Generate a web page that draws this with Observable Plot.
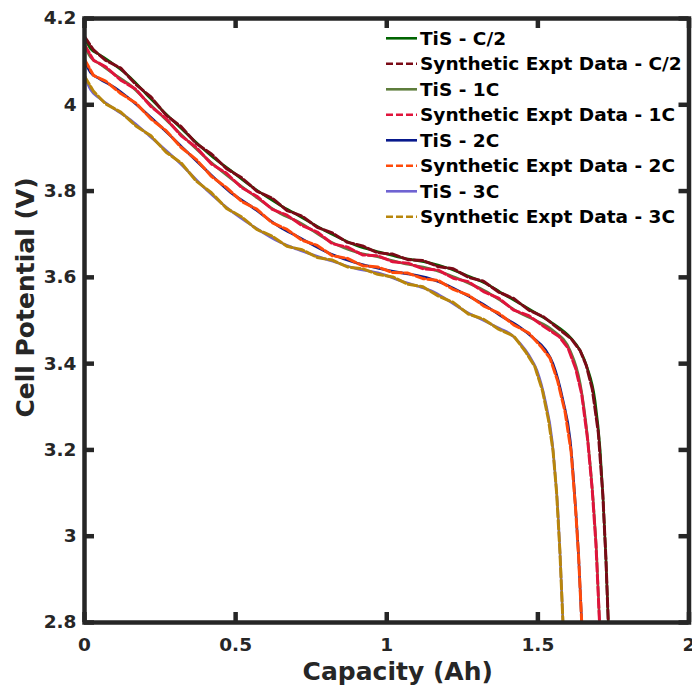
<!DOCTYPE html>
<html>
<head>
<meta charset="utf-8">
<script src="https://cdn.jsdelivr.net/npm/d3@7"></script>
<script src="https://cdn.jsdelivr.net/npm/@observablehq/plot@0.6"></script>
<style>
  html, body { margin: 0; padding: 0; background: #fff; overflow: hidden; }
  #wrap { position: relative; width: 692px; height: 688px; }
  #legend { position: absolute; left: 380px; top: 24px; }
</style>
</head>
<body>
<div id="wrap"></div>
<script>
// ---- data ----
const xTicks = [0, 0.5, 1, 1.5, 2];
const yTicks = [2.8, 3, 3.2, 3.4, 3.6, 3.8, 4, 4.2];

const seriesNames = [
  "TiS - C/2", "Synthetic Expt Data - C/2",
  "TiS - 1C", "Synthetic Expt Data - 1C",
  "TiS - 2C", "Synthetic Expt Data - 2C",
  "TiS - 3C", "Synthetic Expt Data - 3C"
];

// TiS model, C/2
const tisCapC2 = [0,0.02,0.05,0.1,0.152,0.208,0.317,0.426,0.483,0.55,0.648,0.704,0.813,0.9,0.979,1.045,1.144,1.2,1.266,1.33,1.375,1.441,1.484,1.55,1.607,1.64,1.663,1.689,1.706,1.716,1.725,1.733];
const tisVC2   = [4.156,4.13,4.116,4.092,4.063,4.022,3.947,3.878,3.848,3.812,3.767,3.745,3.702,3.674,3.658,3.646,3.633,3.622,3.604,3.585,3.566,3.539,3.521,3.493,3.461,3.43,3.391,3.315,3.2,3.083,2.95,2.8];
// Synthetic, C/2
const synCapC2 = [0,0.03,0.07,0.12,0.17,0.22,0.27,0.32,0.37,0.42,0.47,0.52,0.57,0.62,0.67,0.72,0.77,0.82,0.87,0.92,0.97,1.02,1.07,1.12,1.17,1.22,1.27,1.32,1.37,1.42,1.47,1.52,1.57,1.61,1.64,1.66,1.68,1.70,1.715,1.725,1.733];
const synVC2   = [4.158,4.127,4.103,4.085,4.047,4.018,3.976,3.949,3.910,3.886,3.852,3.831,3.800,3.784,3.755,3.742,3.716,3.703,3.681,3.673,3.657,3.654,3.641,3.639,3.625,3.620,3.600,3.591,3.566,3.551,3.524,3.508,3.480,3.458,3.43,3.396,3.341,3.24,3.095,2.95,2.8];

// TiS model, 1C
const tisCap1C = [0,0.02,0.05,0.1,0.152,0.208,0.317,0.4,0.483,0.55,0.648,0.704,0.813,0.9,0.979,1.045,1.144,1.2,1.266,1.33,1.375,1.441,1.484,1.55,1.607,1.64,1.663,1.683,1.695,1.704];
const tisV1C   = [4.137,4.11,4.095,4.07,4.045,4.007,3.933,3.878,3.83,3.795,3.748,3.73,3.683,3.658,3.646,3.634,3.62,3.607,3.588,3.567,3.547,3.517,3.503,3.477,3.43,3.354,3.238,3.083,2.95,2.8];
// Synthetic, 1C
const synCap1C = [0,0.03,0.07,0.12,0.17,0.22,0.27,0.32,0.37,0.42,0.47,0.52,0.57,0.62,0.67,0.72,0.77,0.82,0.87,0.92,0.97,1.02,1.07,1.12,1.17,1.22,1.27,1.32,1.37,1.42,1.47,1.52,1.57,1.60,1.625,1.645,1.665,1.68,1.692,1.704];
const synV1C   = [4.139,4.103,4.088,4.057,4.036,3.996,3.968,3.928,3.901,3.863,3.841,3.808,3.788,3.758,3.744,3.720,3.705,3.678,3.670,3.652,3.650,3.636,3.633,3.620,3.617,3.598,3.590,3.567,3.552,3.524,3.511,3.486,3.463,3.436,3.389,3.329,3.222,3.106,2.983,2.8];

// TiS model, 2C
const tisCap2C = [0,0.02,0.05,0.1,0.152,0.208,0.317,0.4,0.483,0.55,0.648,0.704,0.813,0.9,0.979,1.045,1.144,1.2,1.266,1.33,1.375,1.441,1.484,1.525,1.55,1.583,1.607,1.623,1.635,1.645];
const tisV2C   = [4.103,4.075,4.06,4.04,4.012,3.978,3.906,3.85,3.797,3.765,3.716,3.695,3.655,3.633,3.62,3.611,3.597,3.582,3.558,3.533,3.512,3.484,3.46,3.432,3.4,3.315,3.222,3.083,2.95,2.8];
// Synthetic, 2C
const synCap2C = [0,0.03,0.07,0.12,0.17,0.22,0.27,0.32,0.37,0.42,0.47,0.52,0.57,0.62,0.67,0.72,0.77,0.82,0.87,0.92,0.97,1.02,1.07,1.12,1.17,1.22,1.27,1.32,1.37,1.42,1.47,1.51,1.54,1.565,1.59,1.61,1.625,1.635,1.645];
const synV2C   = [4.105,4.068,4.055,4.026,4.004,3.967,3.940,3.901,3.873,3.834,3.808,3.776,3.758,3.727,3.711,3.686,3.674,3.650,3.644,3.627,3.624,3.611,3.610,3.597,3.593,3.572,3.559,3.534,3.517,3.490,3.471,3.440,3.413,3.361,3.288,3.196,3.061,2.95,2.8];

// TiS model, 3C
const tisCap3C = [0,0.02,0.05,0.1,0.152,0.208,0.317,0.4,0.483,0.55,0.648,0.704,0.813,0.9,0.979,1.045,1.1,1.154,1.2,1.266,1.33,1.375,1.41,1.441,1.47,1.497,1.524,1.547,1.557,1.564,1.574,1.583];
const tisV3C   = [4.068,4.035,4.015,3.99,3.965,3.932,3.864,3.805,3.755,3.722,3.681,3.665,3.639,3.62,3.609,3.592,3.58,3.567,3.548,3.519,3.497,3.481,3.468,3.447,3.42,3.384,3.315,3.222,3.145,3.083,2.95,2.8];
// Synthetic, 3C
const synCap3C = [0,0.03,0.07,0.12,0.17,0.22,0.27,0.32,0.37,0.42,0.47,0.52,0.57,0.62,0.67,0.72,0.77,0.82,0.87,0.92,0.97,1.02,1.07,1.12,1.17,1.22,1.27,1.32,1.37,1.42,1.46,1.49,1.515,1.535,1.55,1.562,1.573,1.583];
const synV3C   = [4.066,4.031,4.002,3.983,3.951,3.928,3.890,3.865,3.823,3.796,3.760,3.740,3.711,3.696,3.672,3.664,3.646,3.640,3.624,3.620,3.607,3.601,3.584,3.578,3.557,3.542,3.515,3.503,3.480,3.464,3.427,3.393,3.338,3.27,3.199,3.101,2.963,2.8];

// ---- styles ----
const colors = ["#006400", "#7a0a16", "#5e7d3c", "#e0143c", "#08198c", "#ff4a0a", "#6f63d2", "#b8860b"];
const dashed = [false, true, false, true, false, true, false, true];

const caps = [tisCapC2, synCapC2, tisCap1C, synCap1C, tisCap2C, synCap2C, tisCap3C, synCap3C];
const volts = [tisVC2, synVC2, tisV1C, synV1C, tisV2C, synV2C, tisV3C, synV3C];

const series = seriesNames.map((name, i) => ({
  name,
  color: colors[i],
  dashed: dashed[i],
  rows: caps[i].map((c, j) => ({cap: c, v: volts[i][j]}))
}));

const FONT = "DejaVu Sans";
const INK = "#262626";
const W = 692, H = 688;
const mL = 84, mR = 3.5, mT = 18, mB = 66;
const TICK = 10;
const frameW = W - mL - mR, frameH = H - mT - mB;

const lineMarks = series.map(s => Plot.line(s.rows, {
  x: "cap", y: "v",
  stroke: s.color,
  strokeWidth: s.dashed ? 3 : 2.6,
  strokeDasharray: s.dashed ? "9,3" : null,
  curve: s.dashed ? "linear" : "monotone-x"
}));

const tickStyle = {stroke: INK, strokeWidth: 4.5};

const chart = Plot.plot({
  width: W,
  height: H,
  marginLeft: mL,
  marginRight: mR,
  marginTop: mT,
  marginBottom: mB,
  style: {fontFamily: FONT, fontWeight: "bold", fontSize: "18.5px", color: INK, background: "#fff", overflow: "visible"},
  x: {domain: [0, 2]},
  y: {domain: [2.8, 4.2]},
  marks: [
    ...lineMarks,
    Plot.axisX({anchor: "bottom", ticks: xTicks, tickFormat: d => String(d), tickSize: 0, tickPadding: 15, label: null}),
    Plot.axisY({anchor: "left", ticks: yTicks, tickFormat: d => String(+d.toFixed(1)), tickSize: 0, tickPadding: 8, label: null}),
    // inward ticks on all four sides (box style)
    Plot.tickX(xTicks, {x: d => d, insetTop: frameH - TICK, ...tickStyle}),
    Plot.tickX(xTicks, {x: d => d, insetBottom: frameH - TICK, ...tickStyle}),
    Plot.tickY(yTicks, {y: d => d, insetRight: frameW - TICK, ...tickStyle}),
    Plot.tickY(yTicks, {y: d => d, insetLeft: frameW - TICK, ...tickStyle}),
    Plot.frame({stroke: INK, strokeWidth: 4.5}),
    Plot.text(["Capacity (Ah)"], {text: d => d, frameAnchor: "bottom", textAnchor: "middle", dx: 11, dy: 49, fontSize: 25, fill: INK, lineAnchor: "middle"}),
    Plot.text(["Cell Potential (V)"], {text: d => d, frameAnchor: "left", textAnchor: "middle", dx: -59, dy: -23, rotate: -90, fontSize: 25, fill: INK, lineAnchor: "middle"})
  ]
});

const wrap = document.getElementById("wrap");
wrap.appendChild(chart);

// ---- legend (inside the axes, top right, no box) ----
const rowH = 25.5;
const lg = d3.create("svg")
  .attr("id", "legend")
  .attr("width", 312)
  .attr("height", 210)
  .style("overflow", "visible");
const items = lg.selectAll("g").data(series).join("g")
  .attr("transform", (d, i) => `translate(0,${14.3 + i * rowH})`);
items.append("line")
  .attr("x1", 6).attr("x2", 37).attr("y1", 0).attr("y2", 0)
  .attr("stroke", d => d.color)
  .attr("stroke-width", 2.6)
  .attr("stroke-dasharray", d => d.dashed ? "7,3" : null);
items.append("text")
  .attr("x", 40).attr("y", 0)
  .attr("dy", "0.35em")
  .attr("font-family", FONT)
  .attr("font-weight", "bold")
  .attr("font-size", 18.5)
  .attr("fill", "#000")
  .text(d => d.name);
wrap.appendChild(lg.node());
</script>
</body>
</html>
